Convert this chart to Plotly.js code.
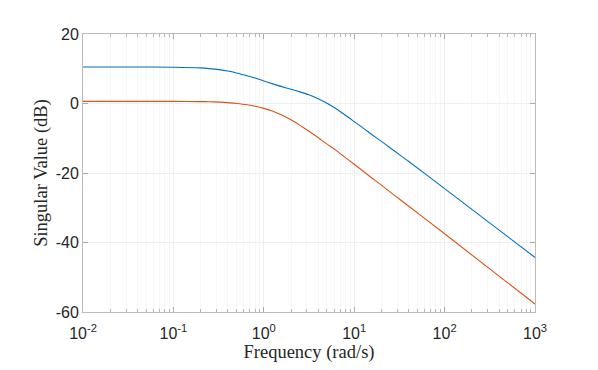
<!DOCTYPE html>
<html>
<head>
<meta charset="utf-8">
<script src="https://cdn.plot.ly/plotly-3.0.1.min.js"></script>
<style>
  body { margin: 0; background: #fff; }
  #plot { width: 598px; height: 370px; }
</style>
</head>
<body>
<div id="plot"></div>
<script>
// frequencies (rad/s)
var freq = [0.01, 0.03, 0.1, 0.2, 0.25, 0.32, 0.4, 0.5, 0.63, 0.8, 1, 1.26, 1.58, 2, 2.51, 3.16, 3.98, 5.01, 6.31, 7.94, 10, 12.6, 15.8, 20, 25.1, 31.6, 39.8, 100, 1000];

// singular values (dB)
var sigma1 = [10.5, 10.5, 10.45, 10.25, 10.05, 9.75, 9.35, 8.8, 8.1, 7.35, 6.5, 5.65, 4.85, 4.1, 3.35, 2.5, 1.4, 0.1, -1.5, -3.3, -5.2, -7.1, -9.0, -10.9, -12.8, -14.7, -16.6, -24.5, -44.3];
var sigma2 = [0.6, 0.6, 0.6, 0.55, 0.5, 0.4, 0.25, 0.0, -0.3, -0.8, -1.4, -2.2, -3.3, -4.7, -6.3, -8.0, -9.8, -11.7, -13.5, -15.5, -17.5, -19.5, -21.5, -23.5, -25.5, -27.5, -29.5, -37.5, -57.7];

var xTickVals = [0.01, 0.1, 1, 10, 100, 1000];
var xTickText = ["10<sup>-2</sup>", "10<sup>-1</sup>", "10<sup>0</sup>", "10<sup>1</sup>", "10<sup>2</sup>", "10<sup>3</sup>"];
var yTickVals = [-60, -40, -20, 0, 20];
var yTickText = ["-60", "-40", "-20", "0", "20"];

var trace1 = {
    x: freq,
    y: sigma1,
    type: "scatter",
    mode: "lines",
    line: {color: "#0072BD", width: 1.1, shape: "spline", smoothing: 0.6},
    hoverinfo: "none"
};

var trace2 = {
    x: freq,
    y: sigma2,
    type: "scatter",
    mode: "lines",
    line: {color: "#D95319", width: 1.1, shape: "spline", smoothing: 0.6},
    hoverinfo: "none"
};

var data = [trace1, trace2];

var layout = {
    width: 598,
    height: 370,
    margin: {l: 83, r: 63, t: 34, b: 58},
    paper_bgcolor: "#ffffff",
    plot_bgcolor: "#ffffff",
    showlegend: false,
    font: {family: "Liberation Sans, Arial, sans-serif", size: 16, color: "#262626"},
    xaxis: {
        type: "log",
        range: [-2, 3],
        tickmode: "array",
        tickvals: xTickVals,
        ticktext: xTickText,
        ticks: "inside",
        ticklen: 5,
        tickcolor: "#aaaaaa",
        ticklabelstandoff: 7,
        showline: true,
        linecolor: "#bbbbbb",
        linewidth: 1,
        mirror: "ticks",
        showgrid: true,
        gridcolor: "#efefef",
        zeroline: false,
        minor: {dtick: "D1", ticks: "inside", ticklen: 3, tickcolor: "#b5b5b5", showgrid: true, gridcolor: "#f7f7f7"},
        automargin: false,
        title: {text: "Frequency (rad/s)", font: {family: "Liberation Serif, serif", size: 18.5, color: "#262626"}, standoff: 2}
    },
    yaxis: {
        range: [-60, 20],
        tickmode: "array",
        tickvals: yTickVals,
        ticktext: yTickText,
        ticks: "inside",
        ticklen: 5,
        tickcolor: "#aaaaaa",
        showline: true,
        linecolor: "#bbbbbb",
        linewidth: 1,
        mirror: "ticks",
        showgrid: true,
        gridcolor: "#efefef",
        zeroline: false,
        automargin: false,
        title: {text: "Singular Value (dB)", font: {family: "Liberation Serif, serif", size: 18.5, color: "#262626"}, standoff: 3}
    }
};

Plotly.newPlot("plot", data, layout, {staticPlot: true});
</script>
</body>
</html>
